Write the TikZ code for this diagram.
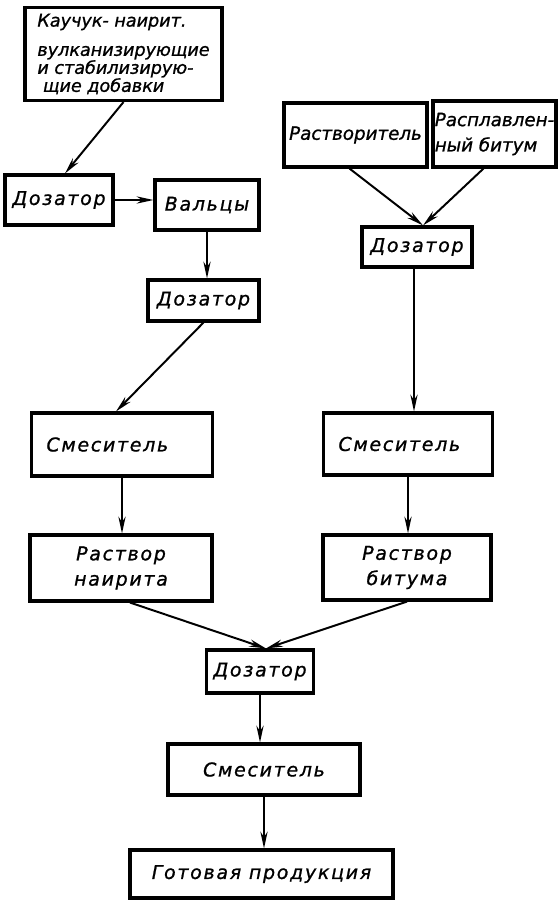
\documentclass[tikz,border=0pt]{standalone}
\usepackage{fontspec}
\usetikzlibrary{arrows.meta}
\newfontfamily\gost{DejaVu Sans}[LetterSpace=9,FakeBold=1]
\begin{document}
\begin{tikzpicture}[x=0.025cm,y=-0.025cm,
  blok/.style={draw,line width=2.2pt,inner sep=0pt,align=center,
    font=\gost\itshape\fontsize{13.5}{18}\selectfont},
  uzkij/.style={font=\gost\itshape\fontsize{13}{18}\selectfont\addfontfeature{LetterSpace=0}},
  potok/.style={line width=1.4pt,-{Stealth[length=0.42cm,width=0.18cm]}}]
\useasboundingbox (0,0) rectangle (559,900);

\node[blok,minimum width=4.925cm,minimum height=2.325cm,align=left,
  font=\gost\itshape\fontsize{12.5}{12.8}\selectfont\addfontfeature{LetterSpace=0}]
  (kauchuk) at (123.5,54) {Каучук- наирит.\\[8pt] вулканизирующие\\ и стабилизирую-\\ \ щие добавки};
\node[blok,minimum width=2.7cm,minimum height=1.25cm] (dozL) at (59,200) {Дозатор};
\node[blok,minimum width=2.6cm,minimum height=1.25cm] (valtsy) at (207,205) {Вальцы};
\node[blok,minimum width=2.775cm,minimum height=1.025cm] (doz2) at (203.5,300.5) {Дозатор};

\node[blok,uzkij,minimum width=3.575cm,minimum height=1.6cm] (rastv) at (355.5,135) {Растворитель};
\node[blok,uzkij,minimum width=3.075cm,minimum height=1.65cm,align=left] (rasplav) at (494.5,134) {Расплавлен-\\ный битум};
\node[blok,minimum width=2.75cm,minimum height=1cm] (dozR) at (417,247) {Дозатор};

\node[blok,align=left,text width=3.775cm,inner xsep=0.375cm,minimum height=1.575cm] (mixL) at (122,444.5) {Смеситель};
\node[blok,align=left,text width=3.475cm,inner xsep=0.375cm,minimum height=1.55cm] (mixR) at (408,444) {Смеситель};
\node[blok,minimum width=4.55cm,minimum height=1.65cm] (solL) at (121,568) {Раствор\\наирита};
\node[blok,minimum width=4.2cm,minimum height=1.625cm] (solR) at (407,567.5) {Раствор\\битума};

\node[blok,minimum width=2.675cm,minimum height=1.075cm] (dozB) at (260,671.5) {Дозатор};
\node[blok,minimum width=4.8cm,minimum height=1.275cm] (mixB) at (264,769.5) {Смеситель};
\node[blok,minimum width=6.575cm,minimum height=1.2cm] (prod) at (261.5,874) {Готовая продукция};

\draw[potok] (kauchuk.south) -- ([xshift=0.15cm]dozL.north);
\draw[potok] (dozL.east) -- (dozL.east -| valtsy.west);
\draw[potok] (valtsy.south) -- (valtsy.south |- doz2.north);
\draw[potok] (doz2.south) -- ([xshift=-0.15cm]mixL.north);

\coordinate (vhodR) at ([xshift=0.15cm]dozR.north);
\draw[potok] ([xshift=-0.15cm]rastv.south) -- (vhodR);
\draw[potok] ([xshift=-0.275cm]rasplav.south) -- (vhodR);
\draw[potok] ([xshift=-0.075cm]dozR.south) -- ([xshift=-0.075cm]dozR.south |- mixR.north);

\draw[potok] (mixL.south) -- (mixL.south |- solL.north);
\draw[potok] (mixR.south) -- (mixR.south |- solR.north);

\coordinate (vhodB) at ([xshift=0.15cm]dozB.north);
\draw[potok] ([xshift=0.225cm]solL.south) -- (vhodB);
\draw[potok] (solR.south) -- (vhodB);
\draw[potok] (dozB.south) -- (dozB.south |- mixB.north);
\draw[potok] (mixB.south) -- (mixB.south |- prod.north);
\end{tikzpicture}
\end{document}
